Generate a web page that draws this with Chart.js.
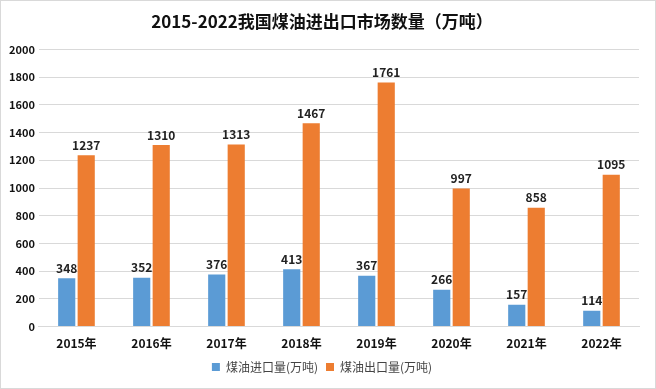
<!DOCTYPE html>
<html><head><meta charset="utf-8">
<script src="https://cdn.jsdelivr.net/npm/chart.js@4/dist/chart.umd.min.js"></script>
<style>
html,body{margin:0;padding:0;background:#fff}
#wrap{position:relative;width:654px;height:387px;border:1px solid #d9d9d9}
</style></head><body>
<div id="wrap"><canvas id="c" width="654" height="387"></canvas></div>
<script>
const years=['2015年','2016年','2017年','2018年','2019年','2020年','2021年','2022年'];
const importVals=[348,352,376,413,367,266,157,114];
const exportVals=[1237,1310,1313,1467,1761,997,858,1095];
const FONT='"Noto Sans CJK SC","Liberation Sans",sans-serif';

// draw value labels over each bar
const barLabels={
  id:'barLabels',
  afterDatasetsDraw(chart){
    const ctx=chart.ctx;
    ctx.save();
    ctx.font='bold 12px '+FONT;
    ctx.fillStyle='#222';
    ctx.textAlign='center';ctx.textBaseline='bottom';
    chart.data.datasets.forEach((ds,i)=>{
      chart.getDatasetMeta(i).data.forEach((bar,j)=>{
        ctx.fillText(ds.data[j],bar.x,bar.y-4);
      });
    });
    ctx.restore();
  }
};

new Chart(document.getElementById('c'),{
  type:'bar',
  data:{
    labels:years,
    datasets:[
      {label:'煤油进口量(万吨)',data:importVals,backgroundColor:'#5B9BD5'},
      {label:'煤油出口量(万吨)',data:exportVals,backgroundColor:'#ED7D31'}
    ]
  },
  options:{
    responsive:false,animation:false,
    categoryPercentage:0.52,barPercentage:0.88,
    layout:{padding:{left:4,right:16,top:4,bottom:5}},
    plugins:{
      title:{display:true,text:'2015-2022我国煤油进出口市场数量（万吨）',color:'#111',font:{family:FONT,size:17,weight:'bold'},padding:{top:6,bottom:18}},
      legend:{position:'bottom',labels:{color:'#444',font:{family:FONT,size:12},boxWidth:8,boxHeight:8,padding:8}},
      tooltip:{enabled:false}
    },
    scales:{
      x:{grid:{display:false},border:{color:'#d9d9d9'},ticks:{color:'#111',font:{family:FONT,size:12,weight:'bold'},padding:2}},
      y:{min:0,max:2000,ticks:{stepSize:200,color:'#111',font:{family:FONT,size:11,weight:'bold'},padding:4,callback:v=>String(v)},grid:{color:'#d9d9d9',drawTicks:false},border:{display:false}}
    }
  },
  plugins:[barLabels]
});
</script>
</body></html>
